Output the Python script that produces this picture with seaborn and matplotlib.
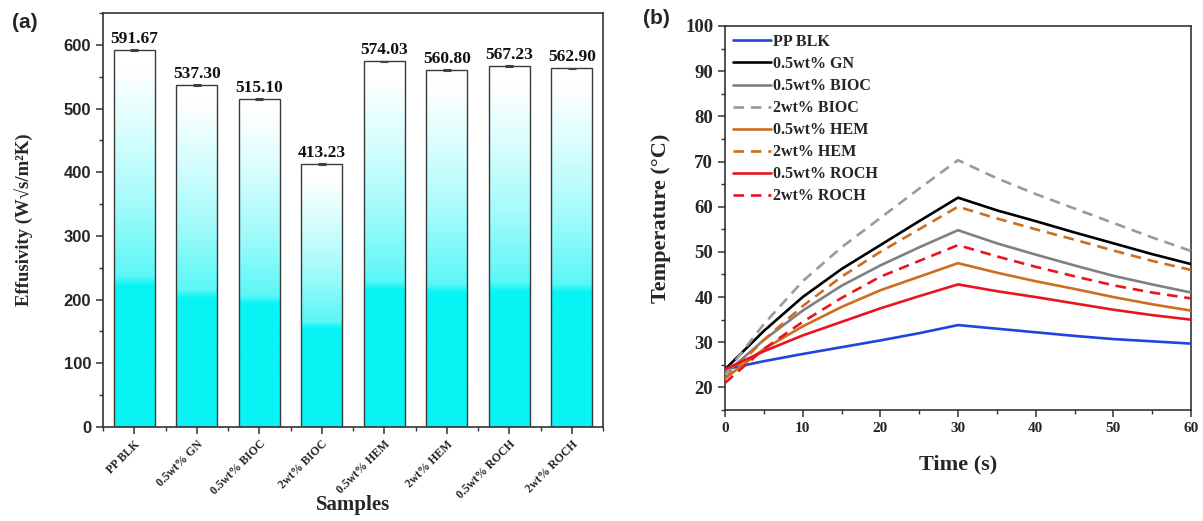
import numpy as np
import pandas as pd
import matplotlib
matplotlib.use("Agg")
import matplotlib.pyplot as plt
import seaborn as sns
from matplotlib.colors import LinearSegmentedColormap
from matplotlib.ticker import MultipleLocator

# ---------------- data ----------------
samples = ["PP BLK", "0.5wt% GN", "0.5wt% BIOC", "2wt% BIOC",
           "0.5wt% HEM", "2wt% HEM", "0.5wt% ROCH", "2wt% ROCH"]
effusivity = [591.67, 537.30, 515.10, 413.23, 574.03, 560.80, 567.23, 562.90]
effusivity_err = [1.5, 2.0, 1.5, 2.0, 1.0, 1.5, 1.5, 1.5]

time_s = [0, 5, 10, 15, 20, 25, 30, 35, 40, 45, 50, 55, 60]
temp_pp_blk = [24.0, 25.8, 27.4, 28.9, 30.4, 32.0, 33.8, 33.0, 32.2, 31.4, 30.7, 30.2, 29.7]
temp_gn = [24.0, 32.5, 40.0, 46.2, 51.5, 56.8, 62.0, 59.2, 56.8, 54.3, 51.9, 49.5, 47.3]
temp_05_bioc = [23.0, 30.5, 37.0, 42.5, 47.0, 51.0, 54.8, 51.9, 49.4, 47.0, 44.7, 42.8, 41.0]
temp_2_bioc = [23.0, 34.0, 43.5, 51.0, 57.5, 64.0, 70.3, 66.3, 62.8, 59.6, 56.4, 53.2, 50.2]
temp_05_hem = [22.0, 28.5, 33.5, 37.8, 41.5, 44.5, 47.5, 45.4, 43.5, 41.8, 40.0, 38.4, 37.0]
temp_2_hem = [22.0, 30.5, 38.0, 44.5, 50.0, 55.0, 60.0, 57.4, 55.0, 52.7, 50.3, 48.0, 46.0]
temp_05_roch = [24.0, 28.0, 31.5, 34.5, 37.5, 40.2, 42.8, 41.3, 40.0, 38.6, 37.2, 36.0, 35.0]
temp_2_roch = [21.0, 28.5, 34.5, 39.8, 44.5, 48.0, 51.5, 49.0, 46.7, 44.6, 42.6, 41.0, 39.7]

series_names = ["PP BLK", "0.5wt% GN", "0.5wt% BIOC", "2wt% BIOC",
                "0.5wt% HEM", "2wt% HEM", "0.5wt% ROCH", "2wt% ROCH"]
series_values = [temp_pp_blk, temp_gn, temp_05_bioc, temp_2_bioc,
                 temp_05_hem, temp_2_hem, temp_05_roch, temp_2_roch]
series_colors = ["#1f45e0", "#000000", "#808080", "#9a9a9a",
                 "#cc6e1e", "#cc6e1e", "#e8151f", "#e8151f"]
series_dashed = [False, False, False, True, False, True, False, True]

# ---------------- style ----------------
sns.set_theme(style="ticks")
plt.rcParams["font.family"] = ["Liberation Serif", "DejaVu Serif"]
plt.rcParams["font.weight"] = "bold"
SERIF = ["Liberation Serif", "DejaVu Serif"]
SANS = ["Liberation Sans", "DejaVu Sans"]

fig = plt.figure(figsize=(12.03, 5.21), dpi=100)
ax1 = fig.add_axes([103 / 1203, 1 - 427 / 521, 500 / 1203, 414 / 521])
ax2 = fig.add_axes([725 / 1203, 1 - 410 / 521, 466 / 1203, 384 / 521])

# ---------------- panel (a) ----------------
df_bar = pd.DataFrame({"Samples": samples, "Effusivity": effusivity})
sns.barplot(data=df_bar, x="Samples", y="Effusivity", ax=ax1, width=0.65,
            errorbar=None, fill=True, facecolor="none", edgecolor="#3a3a3a",
            linewidth=1.0, zorder=3)

cmap = LinearSegmentedColormap.from_list(
    "cy", [(0.0, "#08f4f4"), (0.375, "#08f4f4"), (0.40, "#5cf7f7"),
           (0.60, "#a6fbfb"), (0.80, "#ddfefe"), (0.95, "#ffffff"), (1.0, "#ffffff")])
grad = np.linspace(0, 1, 256).reshape(-1, 1)
for p in list(ax1.patches):
    x0, w, h = p.get_x(), p.get_width(), p.get_height()
    im = ax1.imshow(grad, cmap=cmap, origin="lower", aspect="auto",
                    extent=[x0, x0 + w, 0, h], zorder=2, interpolation="bilinear")
    im.set_clip_path(p)

ax1.errorbar(range(len(samples)), effusivity, yerr=effusivity_err, fmt="none",
             ecolor="#444444", elinewidth=0.8, capsize=3, capthick=0.8, zorder=4)
for i, v in enumerate(effusivity):
    ax1.text(i, v + 5, f"{v:.2f}", ha="center", va="bottom", fontsize=12.5,
             fontweight="bold", family=SERIF, color="#111111")

ax1.set_xlim(-0.5, len(samples) - 0.5)
ax1.set_ylim(0, 650)
ax1.yaxis.set_major_locator(MultipleLocator(100))
ax1.yaxis.set_minor_locator(MultipleLocator(50))
ax1.set_xticks(range(len(samples)))
ax1.set_xticks(np.arange(-0.5, len(samples), 1.0), minor=True)
ax1.set_xticklabels(samples, rotation=45, ha="right", rotation_mode="anchor",
                    fontsize=8.5, fontweight="bold", family=SERIF)
for t in ax1.get_yticklabels():
    t.set_fontfamily(SANS)
    t.set_fontweight("bold")
    t.set_fontsize(12)
ax1.tick_params(axis="both", which="major", direction="out", length=5, width=1.1,
                color="#333333")
ax1.tick_params(axis="both", which="minor", direction="out", length=3, width=1.0,
                color="#333333")
ax1.tick_params(axis="x", which="major", pad=3)
ax1.set_ylabel("Effusivity (W√s/m²K)", fontsize=13.5, fontweight="bold", family=SERIF)
ax1.set_xlabel("Samples", fontsize=15, fontweight="bold", family=SERIF)
ax1.yaxis.set_label_coords(-0.14, 0.5)
ax1.xaxis.set_label_coords(0.5, -0.165)
for s in ax1.spines.values():
    s.set_visible(True)
    s.set_linewidth(1.2)
    s.set_color("#333333")

# ---------------- panel (b) ----------------
for name, vals, col, dashed in zip(series_names, series_values, series_colors, series_dashed):
    d = pd.DataFrame({"Time": time_s, "Temp": vals})
    sns.lineplot(data=d, x="Time", y="Temp", ax=ax2, color=col, linewidth=1.9,
                 label=name, zorder=3)
    ln = ax2.get_lines()[-1]
    if dashed:
        ln.set_dashes((4, 2.6))

ax2.set_xlim(0, 60)
ax2.set_ylim(15, 100)
ax2.xaxis.set_major_locator(MultipleLocator(10))
ax2.xaxis.set_minor_locator(MultipleLocator(5))
ax2.yaxis.set_major_locator(MultipleLocator(10))
ax2.yaxis.set_minor_locator(MultipleLocator(5))
ax2.set_yticks(range(20, 101, 10))
ax2.tick_params(axis="both", which="major", direction="out", length=5, width=1.1,
                color="#333333")
ax2.tick_params(axis="both", which="minor", direction="out", length=3, width=1.0,
                color="#333333")
for t in ax2.get_yticklabels():
    t.set_fontsize(13.5)
    t.set_fontweight("bold")
    t.set_fontfamily(SERIF)
for t in ax2.get_xticklabels():
    t.set_fontsize(11)
    t.set_fontweight("bold")
    t.set_fontfamily(SERIF)
ax2.set_xlabel("Time (s)", fontsize=16, fontweight="bold", family=SERIF)
ax2.set_ylabel("Temperature (°C)", fontsize=16, fontweight="bold", family=SERIF)
ax2.yaxis.set_label_coords(-0.115, 0.5)
ax2.xaxis.set_label_coords(0.5, -0.115)
for s in ax2.spines.values():
    s.set_visible(True)
    s.set_linewidth(1.2)
    s.set_color("#333333")
leg = ax2.legend(loc="upper left", frameon=False, handlelength=2.4,
                 handletextpad=0.1, labelspacing=0.38, borderaxespad=0.2, borderpad=0.3,
                 prop={"family": SERIF, "weight": "bold", "size": 11.5})

fig.text(25 / 1203, 1 - 22 / 521, "(a)", fontsize=15, fontweight="bold", family=SANS,
         ha="center", va="center")
fig.text(656 / 1203, 1 - 18 / 521, "(b)", fontsize=15, fontweight="bold", family=SANS,
         ha="center", va="center")

fig.savefig("out.png", dpi=100)
